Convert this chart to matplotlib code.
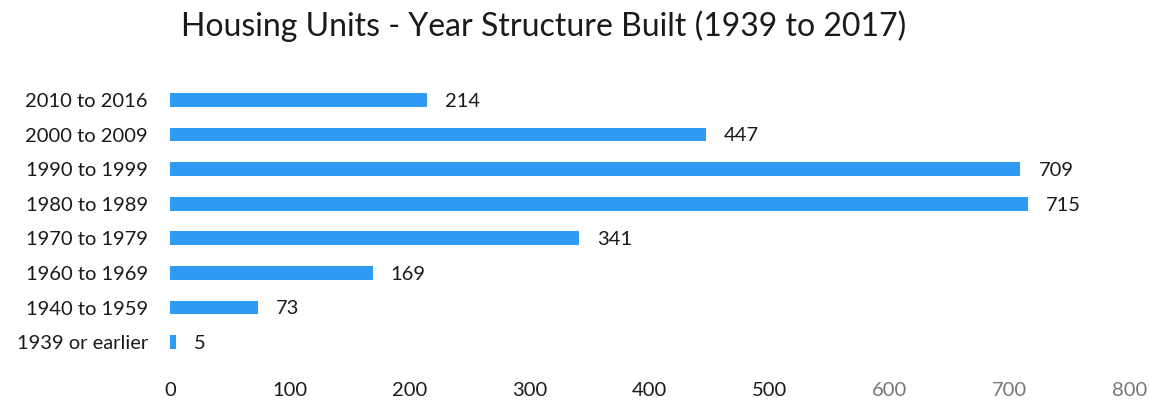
import matplotlib
matplotlib.use("Agg")
import matplotlib.pyplot as plt

categories = ["2010 to 2016", "2000 to 2009", "1990 to 1999", "1980 to 1989",
              "1970 to 1979", "1960 to 1969", "1940 to 1959", "1939 or earlier"]
units = [214, 447, 709, 715, 341, 169, 73, 5]
xticks = [0, 100, 200, 300, 400, 500, 600, 700, 800]

plt.rcParams["font.family"] = ["Lato", "DejaVu Sans"]
fig = plt.figure(figsize=(11.49, 4.03), dpi=100)
ax = fig.add_axes([0.148, 0.108, 0.835, 0.687])

y = list(range(len(categories)))[::-1]
ax.barh(y, units, height=0.4, color="#2f9bf4")
for yi, v in zip(y, units):
    ax.annotate(str(v), (v, yi), xytext=(13, -1), textcoords="offset points",
                ha="left", va="center", fontsize=14.5, color="#1a1a1a")

ax.set_xlim(0, 800)
ax.set_ylim(-0.5, 7.5)
ax.set_yticks(y)
ax.set_yticklabels(categories, fontsize=14.5, color="#1a1a1a")
ax.set_xticks(xticks)
ax.set_xticklabels([str(t) for t in xticks], fontsize=14.5)
for lab, t in zip(ax.get_xticklabels(), xticks):
    lab.set_color("#1a1a1a" if t <= 500 else "#777777")
ax.tick_params(axis="both", length=0)
ax.tick_params(axis="y", pad=16)
ax.tick_params(axis="x", pad=16)
for s in ax.spines.values():
    s.set_visible(False)

fig.text(0.473, 0.935, "Housing Units - Year Structure Built (1939 to 2017)",
         ha="center", va="center", fontsize=23, color="#1a1a1a")

fig.savefig("out.png", dpi=100)
